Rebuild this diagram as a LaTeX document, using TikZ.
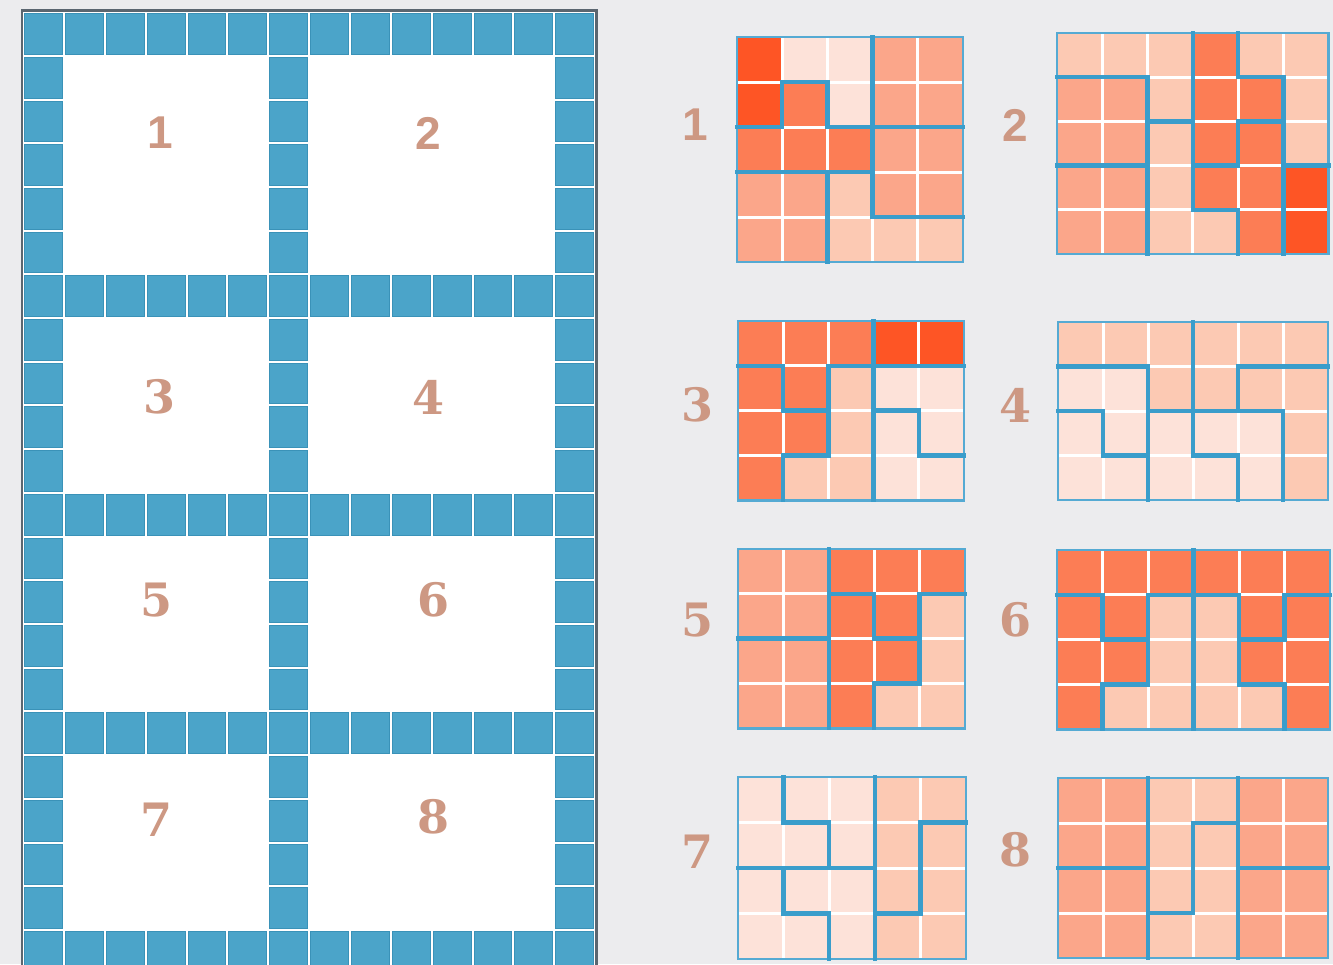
\documentclass[tikz,border=0pt]{standalone}
\usepackage{fontspec}
\newfontfamily\numsans{Liberation Sans}
\newfontfamily\numserif{DejaVu Serif}
\definecolor{bgcol}{HTML}{ECECEE}
\definecolor{tileblue}{HTML}{4BA4C9}
\definecolor{tileedge}{HTML}{3A92B8}
\definecolor{framegray}{HTML}{5B6670}
\definecolor{frameblue}{HTML}{55AAD3}
\definecolor{pieceblue}{HTML}{3A9DCB}
\definecolor{numcol}{HTML}{CD9883}
\definecolor{cd}{HTML}{FE5525}
\definecolor{cm}{HTML}{FC7D55}
\definecolor{cl}{HTML}{FBA68A}
\definecolor{cp}{HTML}{FCC9B3}
\definecolor{cv}{HTML}{FDE2D9}

\begin{document}
\begin{tikzpicture}[x=0.5pt,y=-0.5pt,
    tile/.style={fill=tileblue,draw=tileedge,line width=0.4pt},
    gapline/.style={white,line width=1.5pt},
    gridframe/.style={draw=frameblue,line width=1.4pt},
    piece/.style={draw=pieceblue,line width=2.2pt,line cap=rect},
    num/.style={text=numcol,font=\fontsize{23}{23}\selectfont\bfseries}]
    \useasboundingbox (0,0) rectangle (1333,964);
    \fill[bgcol] (0,0) rectangle (1333,964);
    \clip (0,0) rectangle (1333,964);

    % tiled floor plan
    \fill[white] (21,10) rectangle (597,975);
    \foreach \j in {0,6,11,16,21}{
        \foreach \i in {0,...,13}
            \filldraw[tile] ({24.5+\i*40.86},{13.5+\j*43.71}) rectangle ++(37.86,40.71);
    }
    \foreach \j in {1,...,5,7,8,9,10,12,13,14,15,17,18,19,20}{
        \foreach \i in {0,6,13}
            \filldraw[tile] ({24.5+\i*40.86},{13.5+\j*43.71}) rectangle ++(37.86,40.71);
    }
    \draw[framegray,line width=1.1pt] (22,975) -- (22,10.5) -- (596.5,10.5) -- (596.5,975);

    \foreach \n/\x/\y/\f in {1/160/133/\numsans,2/428/133/\numsans,3/160/397/\numserif,4/428/397/\numserif,
                             5/157/600/\numserif,6/433/600/\numserif,7/157/820/\numserif,8/433/817/\numserif}
        \node[num] (room\n) at (\x,\y) {\f\n};
    \foreach \n/\x/\y/\f in {1/695/125/\numsans,2/1015/125/\numsans,3/697/405/\numserif,4/1015/405/\numserif,
                             5/697/620/\numserif,6/1015/620/\numserif,7/697/852/\numserif,8/1015/850/\numserif}
        \node[num] (tiling\n) at (\x,\y) {\f\n};

    % tiling 1
    \begin{scope}[shift={(737,37)},x=22.6pt,y=-22.5pt]
        \foreach \row [count=\r from 0] in {{d,v,v,l,l},{d,m,v,l,l},{m,m,m,l,l},{l,l,p,l,l},{l,l,p,p,p}}{
            \foreach \c [count=\k from 0] in \row
                \fill[fill=c\c] (\k,\r) rectangle ++(1,1);
        }
        \foreach \i in {1,...,4}{
            \draw[gapline] (\i,0) -- (\i,5);
            \draw[gapline] (0,\i) -- (5,\i);
        }
        \draw[gridframe] (0,0) rectangle (5,5);
        \draw[piece] (1,2) -- (1,1) -- (2,1) -- (2,2) (0,2) -- (1,2) (2,2) -- (5,2) (3,0) -- (3,4)
            (0,3) -- (3,3) (2,3) -- (2,5) (3,4) -- (5,4);
    \end{scope}

    % tiling 2
    \begin{scope}[shift={(1057,33)},x=22.65pt,y=-22.1pt]
        \foreach \row [count=\r from 0] in {{p,p,p,m,p,p},{l,l,p,m,m,p},{l,l,p,m,m,p},{l,l,p,m,m,d},{l,l,p,p,m,d}}{
            \foreach \c [count=\k from 0] in \row
                \fill[fill=c\c] (\k,\r) rectangle ++(1,1);
        }
        \foreach \i in {1,...,5} \draw[gapline] (\i,0) -- (\i,5);
        \foreach \i in {1,...,4} \draw[gapline] (0,\i) -- (6,\i);
        \draw[gridframe] (0,0) rectangle (6,5);
        \draw[piece] (0,1) -- (2,1) -- (2,5) (2,2) -- (3,2) (3,0) -- (3,4) -- (4,4) -- (4,5)
            (4,0) -- (4,1) -- (5,1) -- (5,5) (5,2) -- (4,2) -- (4,3) -- (3,3) (5,3) -- (6,3) (0,3) -- (2,3);
    \end{scope}

    % tiling 3
    \begin{scope}[shift={(738,321)},x=22.6pt,y=-22.4pt]
        \foreach \row [count=\r from 0] in {{m,m,m,d,d},{m,m,p,v,v},{m,m,p,v,v},{m,p,p,v,v}}{
            \foreach \c [count=\k from 0] in \row
                \fill[fill=c\c] (\k,\r) rectangle ++(1,1);
        }
        \foreach \i in {1,...,4} \draw[gapline] (\i,0) -- (\i,4);
        \foreach \i in {1,...,3} \draw[gapline] (0,\i) -- (5,\i);
        \draw[gridframe] (0,0) rectangle (5,4);
        \draw[piece] (0,1) -- (1,1) -- (1,2) -- (2,2) (1,4) -- (1,3) -- (2,3) -- (2,1) -- (5,1)
            (3,0) -- (3,4) (3,2) -- (4,2) -- (4,3) -- (5,3);
    \end{scope}

    % tiling 4
    \begin{scope}[shift={(1058,322)},x=22.5pt,y=-22.25pt]
        \foreach \row [count=\r from 0] in {{p,p,p,p,p,p},{v,v,p,p,p,p},{v,v,v,v,v,p},{v,v,v,v,v,p}}{
            \foreach \c [count=\k from 0] in \row
                \fill[fill=c\c] (\k,\r) rectangle ++(1,1);
        }
        \foreach \i in {1,...,5} \draw[gapline] (\i,0) -- (\i,4);
        \foreach \i in {1,...,3} \draw[gapline] (0,\i) -- (6,\i);
        \draw[gridframe] (0,0) rectangle (6,4);
        \draw[piece] (3,0) -- (3,3) -- (4,3) -- (4,4) (0,1) -- (2,1) -- (2,4) (6,1) -- (4,1) -- (4,2)
            (0,2) -- (1,2) -- (1,3) -- (2,3) (2,2) -- (5,2) -- (5,4);
    \end{scope}

    % tiling 5
    \begin{scope}[shift={(738,549)},x=22.7pt,y=-22.4pt]
        \foreach \row [count=\r from 0] in {{l,l,m,m,m},{l,l,m,m,p},{l,l,m,m,p},{l,l,m,p,p}}{
            \foreach \c [count=\k from 0] in \row
                \fill[fill=c\c] (\k,\r) rectangle ++(1,1);
        }
        \foreach \i in {1,...,4} \draw[gapline] (\i,0) -- (\i,4);
        \foreach \i in {1,...,3} \draw[gapline] (0,\i) -- (5,\i);
        \draw[gridframe] (0,0) rectangle (5,4);
        \draw[piece] (2,0) -- (2,4) (0,2) -- (2,2) (2,1) -- (3,1) -- (3,2) -- (4,2)
            (5,1) -- (4,1) -- (4,3) -- (3,3) -- (3,4);
    \end{scope}

    % tiling 6
    \begin{scope}[shift={(1057,550)},x=22.75pt,y=-22.4pt]
        \foreach \row [count=\r from 0] in {{m,m,m,m,m,m},{m,m,p,p,m,m},{m,m,p,p,m,m},{m,p,p,p,p,m}}{
            \foreach \c [count=\k from 0] in \row
                \fill[fill=c\c] (\k,\r) rectangle ++(1,1);
        }
        \foreach \i in {1,...,5} \draw[gapline] (\i,0) -- (\i,4);
        \foreach \i in {1,...,3} \draw[gapline] (0,\i) -- (6,\i);
        \draw[gridframe] (0,0) rectangle (6,4);
        \draw[piece] (3,0) -- (3,4) (0,1) -- (1,1) -- (1,2) -- (2,2) (4,1) -- (2,1) -- (2,3) -- (1,3) -- (1,4)
            (4,1) -- (4,3) -- (5,3) -- (5,4) (4,2) -- (5,2) -- (5,1) -- (6,1);
    \end{scope}

    % tiling 7
    \begin{scope}[shift={(738,777)},x=22.8pt,y=-22.75pt]
        \foreach \row [count=\r from 0] in {{v,v,v,p,p},{v,v,v,p,p},{v,v,v,p,p},{v,v,v,p,p}}{
            \foreach \c [count=\k from 0] in \row
                \fill[fill=c\c] (\k,\r) rectangle ++(1,1);
        }
        \foreach \i in {1,...,4} \draw[gapline] (\i,0) -- (\i,4);
        \foreach \i in {1,...,3} \draw[gapline] (0,\i) -- (5,\i);
        \draw[gridframe] (0,0) rectangle (5,4);
        \draw[piece] (3,0) -- (3,4) (1,0) -- (1,1) -- (2,1) -- (2,2) (0,2) -- (3,2)
            (1,2) -- (1,3) -- (2,3) -- (2,4) (5,1) -- (4,1) -- (4,3) -- (3,3);
    \end{scope}

    % tiling 8
    \begin{scope}[shift={(1058,778)},x=22.5pt,y=-22.5pt]
        \foreach \row [count=\r from 0] in {{l,l,p,p,l,l},{l,l,p,p,l,l},{l,l,p,p,l,l},{l,l,p,p,l,l}}{
            \foreach \c [count=\k from 0] in \row
                \fill[fill=c\c] (\k,\r) rectangle ++(1,1);
        }
        \foreach \i in {1,...,5} \draw[gapline] (\i,0) -- (\i,4);
        \foreach \i in {1,...,3} \draw[gapline] (0,\i) -- (6,\i);
        \draw[gridframe] (0,0) rectangle (6,4);
        \draw[piece] (0,2) -- (2,2) (2,0) -- (2,4) (4,0) -- (4,4) (4,2) -- (6,2) (4,1) -- (3,1) -- (3,3) -- (2,3);
    \end{scope}
\end{tikzpicture}
\end{document}
